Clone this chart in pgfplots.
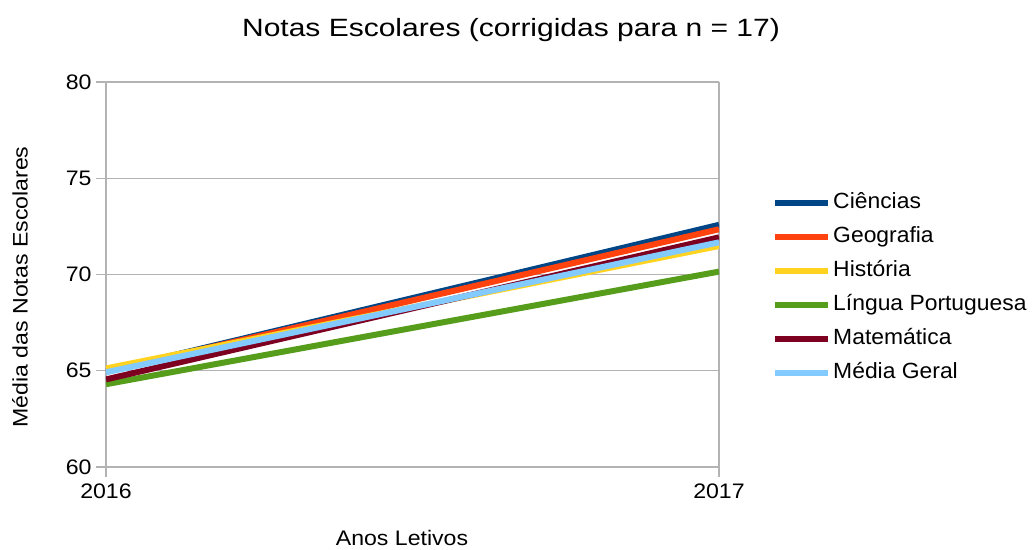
\documentclass[border=0pt]{standalone}
\usepackage{fontspec}
\setmainfont[FakeStretch=1.04]{Liberation Sans}
\newfontfamily\titlefont[FakeStretch=1.2]{Liberation Sans}
\newfontfamily\labfont[FakeStretch=1.1]{Liberation Sans}
\usepackage{pgfplots}
\pgfplotsset{compat=1.18}
\definecolor{cCien}{HTML}{004586}
\definecolor{cGeo}{HTML}{FF420E}
\definecolor{cHist}{HTML}{FFD320}
\definecolor{cLing}{HTML}{579D1C}
\definecolor{cMat}{HTML}{7E0021}
\definecolor{cMed}{HTML}{83CAFF}
\definecolor{gridc}{HTML}{B3B3B3}
\begin{document}
\begin{tikzpicture}
\path[use as bounding box] (-106bp,-83bp) rectangle (927bp,467bp);
\begin{axis}[
  at={(0,0)}, anchor=south west,
  scale only axis, width=613bp, height=385bp,
  xmin=2016, xmax=2017, ymin=60, ymax=80,
  xtick={2016,2017}, xticklabels={2016,2017},
  ytick={60,65,70,75,80},
  axis line style={draw=none},
  grid=major,
  major grid style={gridc, line width=1.3bp},
  tick pos=left, tick align=outside,
  major tick length=10bp,
  every tick/.style={gridc, line width=1.3bp},
  /pgf/number format/assume math mode=true,
  ticklabel style={font=\labfont\fontsize{21bp}{25bp}\selectfont, text=black},
  yticklabel style={xshift=-1bp},
  xticklabel style={yshift=-3bp},
  legend cell align=left,
  legend style={at={(1.0865,0.714)}, anchor=north west, draw=none, fill=none,
    inner sep=0pt, row sep=13bp, column sep=2bp,
    font=\fontsize{22bp}{26bp}\selectfont,
    nodes={inner sep=0pt, text height=16bp, text depth=5bp}},
  legend image code/.code={\draw[#1, line width=6bp] (0bp,0bp) -- (53bp,0bp);},
  every axis plot/.append style={line width=6bp},
]
\addplot[cCien] coordinates {(2016,64.97) (2017,72.58)};
\addlegendentry{Ciências}
\addplot[cGeo] coordinates {(2016,64.96) (2017,72.35)};
\addlegendentry{Geografia}
\addplot[cHist] coordinates {(2016,65.12) (2017,71.48)};
\addlegendentry{História}
\addplot[cLing] coordinates {(2016,64.30) (2017,70.15)};
\addlegendentry{Língua Portuguesa}
\addplot[cMat] coordinates {(2016,64.55) (2017,71.93)};
\addlegendentry{Matemática}
\addplot[cMed] coordinates {(2016,64.92) (2017,71.67)};
\addlegendentry{Média Geral}
\end{axis}
\node[font=\titlefont\fontsize{25bp}{30bp}\selectfont] at (405bp,437bp) {Notas Escolares (corrigidas para n = 17)};
\node[rotate=90, font=\labfont\fontsize{21bp}{25bp}\selectfont] at (-86bp,180bp) {Média das Notas Escolares};
\node[font=\labfont\fontsize{21bp}{25bp}\selectfont] at (296bp,-71bp) {Anos Letivos};
\end{tikzpicture}
\end{document}
